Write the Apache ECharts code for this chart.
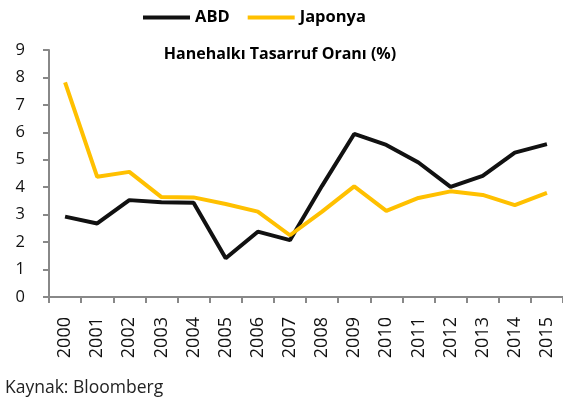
<!DOCTYPE html>
<html>
<head>
<meta charset="utf-8">
<script src="https://cdn.jsdelivr.net/npm/echarts@6/dist/echarts.min.js"></script>
<style>
  html, body { margin: 0; padding: 0; background: #fff; }
  #main { width: 563px; height: 400px; }
</style>
</head>
<body>
<div id="main"></div>
<script>
const years = ['2000', '2001', '2002', '2003', '2004', '2005', '2006', '2007',
               '2008', '2009', '2010', '2011', '2012', '2013', '2014', '2015'];
const abd = [2.93, 2.68, 3.53, 3.45, 3.43, 1.41, 2.38, 2.07,
             4.05, 5.94, 5.54, 4.9, 4.01, 4.41, 5.26, 5.57];
const japonya = [7.82, 4.38, 4.56, 3.64, 3.63, 3.39, 3.11, 2.25,
                 3.11, 4.03, 3.14, 3.61, 3.85, 3.72, 3.35, 3.79];

let myChart = echarts.init(document.getElementById('main'));
const font = '"Open Sans", "Noto Sans", sans-serif';

let option = {
    animation: false,
    textStyle: { fontFamily: font },
    title: [{
        text: 'Hanehalkı Tasarruf Oranı (%)',
        left: 275,
        textAlign: 'center',
        top: 41,
        textStyle: { fontSize: 16, fontWeight: 'bold', color: '#000', fontFamily: font }
    }, {
        text: 'Kaynak: Bloomberg',
        left: 0,
        top: 374,
        textStyle: { fontSize: 17.5, fontWeight: 'normal', color: '#222', fontFamily: font }
    }],
    legend: {
        top: 4,
        left: 138,
        itemWidth: 47,
        itemHeight: 4,
        itemGap: 18,
        icon: 'rect',
        textStyle: { fontSize: 16.5, fontWeight: 'bold', color: '#000', fontFamily: font },
        data: ['ABD', 'Japonya']
    },
    grid: { left: 49, right: 0, top: 50, bottom: 103 },
    xAxis: {
        type: 'category',
        data: years,
        boundaryGap: true,
        axisLine: { lineStyle: { color: '#888', width: 2 } },
        axisTick: { show: true, length: 6, lineStyle: { color: '#888', width: 2 } },
        axisLabel: { rotate: 90, fontSize: 18, color: '#111', margin: 20, fontFamily: font }
    },
    yAxis: {
        type: 'value',
        min: 0,
        max: 9,
        interval: 1,
        splitLine: { show: false },
        axisLine: { show: true, lineStyle: { color: '#888', width: 2 } },
        axisTick: { show: true, length: 6, lineStyle: { color: '#888', width: 2 } },
        axisLabel: { fontSize: 16.5, color: '#111', margin: 24, fontFamily: font }
    },
    series: [{
        name: 'ABD',
        type: 'line',
        data: abd,
        symbol: 'none',
        itemStyle: { color: '#111' },
        lineStyle: { color: '#111', width: 4 }
    }, {
        name: 'Japonya',
        type: 'line',
        data: japonya,
        symbol: 'none',
        itemStyle: { color: '#FFC000' },
        lineStyle: { color: '#FFC000', width: 4 }
    }]
};
myChart.setOption(option);
</script>
</body>
</html>
